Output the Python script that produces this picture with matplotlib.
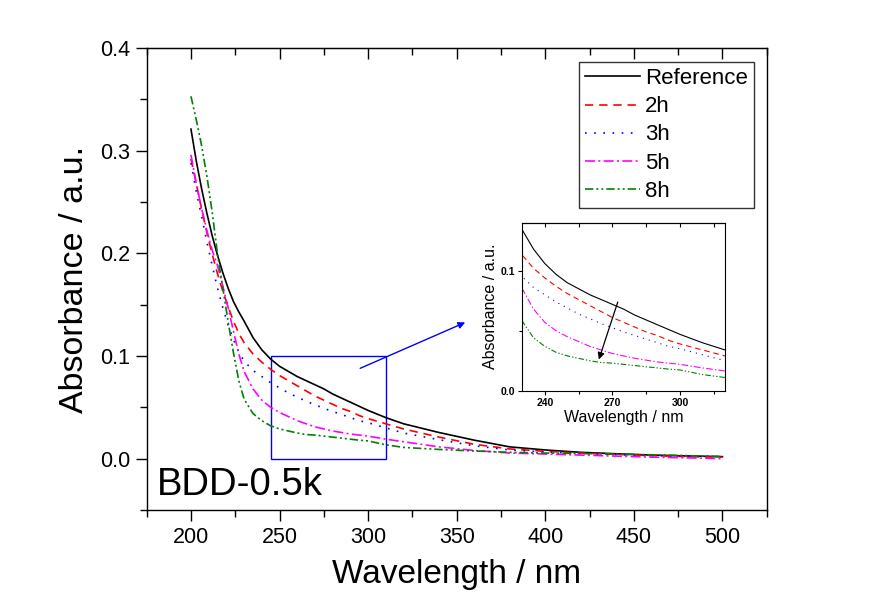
import matplotlib
matplotlib.use("Agg")
import matplotlib.pyplot as plt
from matplotlib.ticker import MultipleLocator
from matplotlib.patches import Rectangle

plt.rcParams['font.family'] = ['Liberation Sans', 'DejaVu Sans']

# wavelength grid (nm) and absorbance
wl = [200, 203, 206, 209, 212, 215, 218, 221, 224, 227, 230, 235, 240, 245,
      250, 255, 260, 265, 270, 275, 280, 285, 290, 295, 300, 310, 320, 340,
      360, 380, 400, 420, 440, 460, 480, 500]

ref = [0.321, 0.290, 0.263, 0.239, 0.217, 0.198, 0.181, 0.166, 0.153, 0.143,
       0.134, 0.118, 0.106, 0.097, 0.090, 0.085, 0.080, 0.076, 0.072, 0.068,
       0.063, 0.059, 0.055, 0.051, 0.047, 0.040, 0.034, 0.0255, 0.018, 0.0115,
       0.0085, 0.0062, 0.0048, 0.0035, 0.0027, 0.002]
h2 = [0.292, 0.268, 0.243, 0.220, 0.199, 0.180, 0.163, 0.148, 0.134, 0.122,
      0.113, 0.102, 0.094, 0.087, 0.081, 0.076, 0.071, 0.066, 0.061, 0.057,
      0.053, 0.049, 0.046, 0.042, 0.039, 0.034, 0.029, 0.021, 0.014, 0.0095,
      0.0072, 0.0055, 0.0042, 0.003, 0.002, 0.0015]
h3 = [0.288, 0.260, 0.236, 0.211, 0.188, 0.166, 0.147, 0.130, 0.116, 0.104,
      0.095, 0.086, 0.080, 0.074, 0.069, 0.064, 0.060, 0.056, 0.0525, 0.049,
      0.046, 0.043, 0.040, 0.037, 0.035, 0.030, 0.025, 0.0185, 0.0125, 0.0085,
      0.0065, 0.005, 0.004, 0.003, 0.0025, 0.002]
h5 = [0.296, 0.268, 0.244, 0.222, 0.203, 0.188, 0.168, 0.147, 0.124, 0.102,
      0.085, 0.068, 0.057, 0.050, 0.045, 0.041, 0.037, 0.034, 0.031, 0.029,
      0.027, 0.0255, 0.024, 0.023, 0.022, 0.019, 0.0165, 0.0115, 0.008, 0.0055,
      0.0045, 0.0035, 0.0025, 0.0015, 0.0008, 0.0]
h8 = [0.353, 0.330, 0.305, 0.275, 0.240, 0.199, 0.166, 0.133, 0.103, 0.076,
      0.058, 0.044, 0.037, 0.032, 0.029, 0.027, 0.025, 0.0235, 0.023, 0.022,
      0.021, 0.020, 0.019, 0.018, 0.0173, 0.0135, 0.011, 0.009, 0.0075, 0.0062,
      0.0055, 0.005, 0.0045, 0.0038, 0.003, 0.002]

labels = ["Reference", "2h", "3h", "5h", "8h"]
series = [ref, h2, h3, h5, h8]
colors = ["black", "#FF0000", "#0000FF", "#FF00FF", "#008000"]
dashes = [None, (5, 3.5), (1, 4.5), (6, 2, 1.2, 2), (5, 1.8, 1.2, 1.8, 1.2, 1.8)]

fig = plt.figure(figsize=(8.96, 6.04), dpi=100)
ax = fig.add_axes([0.1637, 0.1556, 0.692, 0.7649])

for y, lab, c, d in zip(series, labels, colors, dashes):
    line, = ax.plot(wl, y, color=c, lw=1.2, label=lab)
    if d is not None:
        line.set_dashes(d)

ax.set_xlim(175, 525)
ax.set_ylim(-0.05, 0.4)
ax.xaxis.set_major_locator(MultipleLocator(50))
ax.xaxis.set_minor_locator(MultipleLocator(25))
ax.yaxis.set_major_locator(MultipleLocator(0.1))
ax.yaxis.set_minor_locator(MultipleLocator(0.05))
ax.yaxis.set_major_formatter(lambda v, p: f"{v:.1f}")
ax.tick_params(which='both', direction='out', top=False, right=False,
               labelsize=15.5, pad=4, width=1)
ax.tick_params(which='major', length=8)
ax.tick_params(which='minor', length=5)
for s in ax.spines.values():
    s.set_linewidth(1)

top = ax.secondary_xaxis('top')
top.xaxis.set_major_locator(MultipleLocator(50))
top.xaxis.set_minor_locator(MultipleLocator(25))
top.tick_params(which='both', direction='in', labeltop=False, width=1)
top.tick_params(which='major', length=8)
top.tick_params(which='minor', length=5)

ax.set_xlabel("Wavelength / nm", fontsize=24)
ax.set_ylabel("Absorbance / a.u.", fontsize=24.5)
ax.xaxis.set_label_coords(0.5, -0.105)
ax.yaxis.set_label_coords(-0.092, 0.5)

ax.text(0.016, 0.032, "BDD-0.5k", transform=ax.transAxes, fontsize=27.5,
        va='baseline', ha='left')

leg = ax.legend(loc='upper right', bbox_to_anchor=(0.9795, 0.9697),
                borderaxespad=0, fontsize=16, frameon=True, fancybox=False,
                edgecolor='black', handlelength=2.5, handletextpad=0.2,
                borderpad=0.28, labelspacing=0.32)
leg.get_frame().set_linewidth(1)

# zoom box and pointer
ax.add_patch(Rectangle((245, 0.0), 65, 0.1, fill=False, edgecolor='#0000FF', lw=1))
ax.annotate('', xy=(354.8, 0.1327), xytext=(295.5, 0.088),
            arrowprops=dict(arrowstyle='-|>', color='#0000FF', lw=1,
                            mutation_scale=10, shrinkA=0, shrinkB=0))

# inset
ins = fig.add_axes([0.5829, 0.3531, 0.2262, 0.2781])
for y, c, d in zip(series, colors, dashes):
    line, = ins.plot(wl, y, color=c, lw=0.8)
    if d is not None:
        line.set_dashes(d)
ins.set_xlim(230, 320)
ins.set_ylim(0, 0.14)
ins.xaxis.set_major_locator(MultipleLocator(30))
ins.xaxis.set_minor_locator(MultipleLocator(15))
ins.yaxis.set_major_locator(MultipleLocator(0.1))
ins.yaxis.set_minor_locator(MultipleLocator(0.05))
ins.yaxis.set_major_formatter(lambda v, p: f"{v:.1f}")
ins.tick_params(which='both', direction='out', top=False, right=False,
                labelsize=7.5, pad=2, width=0.8)
ins.tick_params(which='major', length=3)
ins.tick_params(which='minor', length=2)
for t in ins.get_xticklabels() + ins.get_yticklabels():
    t.set_fontweight('bold')
for s in ins.spines.values():
    s.set_linewidth(0.8)
itop = ins.secondary_xaxis('top')
itop.xaxis.set_major_locator(MultipleLocator(30))
itop.xaxis.set_minor_locator(MultipleLocator(15))
itop.tick_params(which='both', direction='in', labeltop=False, width=0.8)
itop.tick_params(which='major', length=3)
itop.tick_params(which='minor', length=3)
ins.set_xlabel("Wavelength / nm", fontsize=11.5, labelpad=2)
ins.set_ylabel("Absorbance / a.u.", fontsize=11.5, labelpad=2)
ins.annotate('', xy=(264, 0.026), xytext=(272.4, 0.0739),
             arrowprops=dict(arrowstyle='-|>', color='black', lw=0.9,
                             mutation_scale=10, shrinkA=0, shrinkB=0))

fig.savefig("out.png", dpi=100)
